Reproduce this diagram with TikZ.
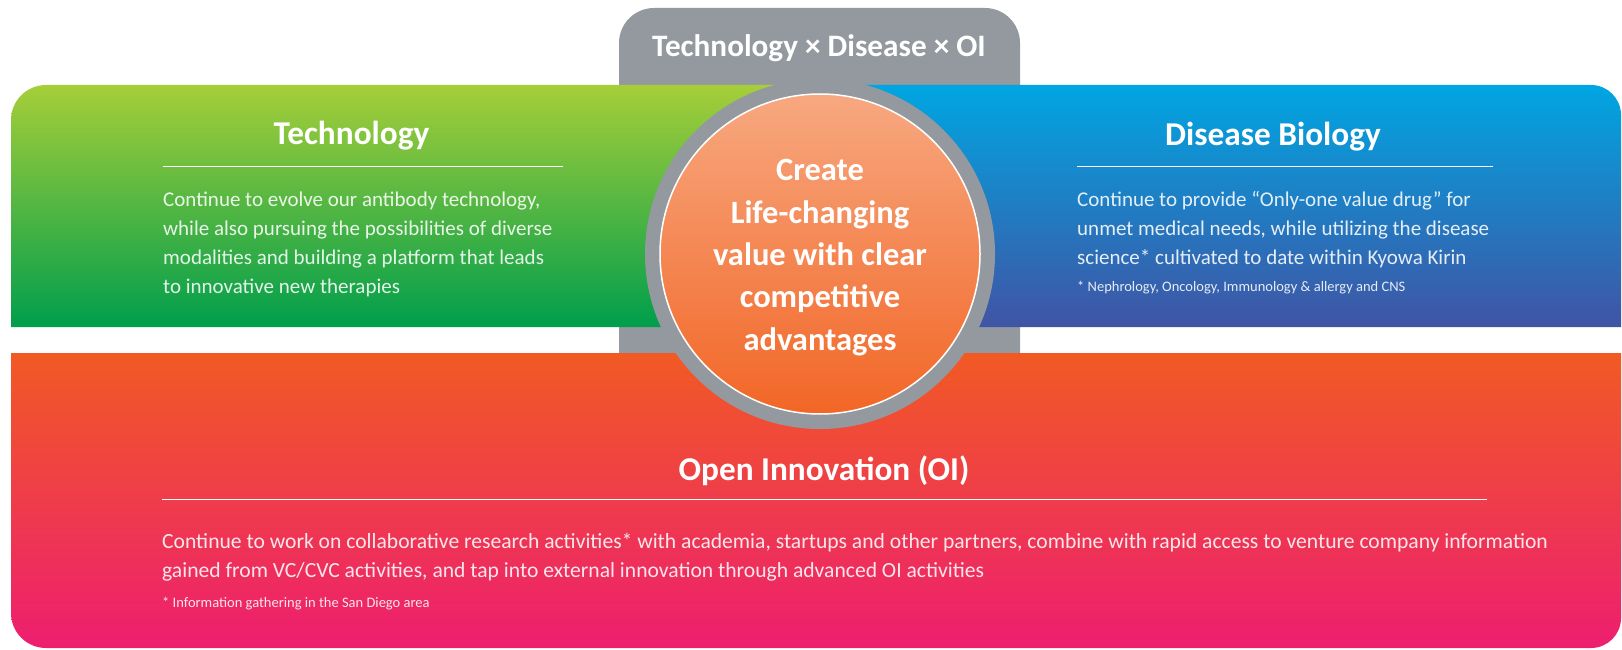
\documentclass[tikz,border=0pt]{standalone}
\usepackage{fontspec}
\setmainfont{Carlito}
\usetikzlibrary{positioning}

\definecolor{tabgray}{RGB}{148,153,159}
\definecolor{techtop}{RGB}{166,206,57}
\definecolor{techbot}{RGB}{0,158,76}
\definecolor{distop}{RGB}{0,166,226}
\definecolor{disbot}{RGB}{64,84,164}
\definecolor{oitop}{RGB}{241,90,36}
\definecolor{oibot}{RGB}{237,30,112}
\definecolor{coretop}{RGB}{247,168,128}
\definecolor{corebot}{RGB}{242,102,38}

\tikzset{
  heading/.style={text=white, font=\fontsize{33.3}{36}\selectfont\bfseries, inner sep=0pt, anchor=base},
  bodytext/.style={text=white, text opacity=.88, font=\fontsize{21}{29}\selectfont, align=left, inner sep=0pt, anchor=base west},
  note/.style={text=white, text opacity=.88, font=\fontsize{14.5}{17}\selectfont, inner sep=0pt, anchor=base west},
  rule/.style={white, line width=1.6pt},
  core/.style={circle, minimum size=320pt, inner sep=0pt, draw=white, line width=1.5pt, top color=coretop, bottom color=corebot},
  coretext/.style={text=white, font=\fontsize{32.5}{42.3}\selectfont\bfseries, align=center, inner sep=0pt, anchor=base},
}

\begin{document}
\begin{tikzpicture}[x=1pt,y=1pt]
        \useasboundingbox (0,0) rectangle (1622,649);

        \fill[tabgray] (619,296) -- (619,606) arc[start angle=180,end angle=90,radius=35pt]
          -- (985,641) arc[start angle=90,end angle=0,radius=35pt] -- (1020,296) -- cycle;
        \shade[top color=techtop,bottom color=techbot] (11,322) -- (11,529)
          arc[start angle=180,end angle=90,radius=35pt] -- (830,564) -- (830,322) -- cycle;
        \shade[top color=distop,bottom color=disbot] (810,322) -- (810,564) -- (1591,564)
          arc[start angle=90,end angle=0,radius=30pt] -- (1621,322) -- cycle;
        \shade[top color=oitop,bottom color=oibot] (11,296) -- (11,36)
          arc[start angle=180,end angle=270,radius=35pt] -- (1591,1)
          arc[start angle=270,end angle=360,radius=30pt] -- (1621,296) -- cycle;

        \coordinate (hub) at (820,395);
        \fill[tabgray] (hub) circle[radius=175pt];
        \node[core] (core) at (hub) {};
        \node[coretext] (coretext) at (820,299) {Create\\Life-changing\\value with clear\\competitive\\advantages};

        \node[heading, font=\fontsize{31.2}{33}\selectfont\bfseries] (tabtitle) at (819,592) {Technology × Disease × OI};

        \node[heading] (techtitle) at (351.5,504) {Technology};
        \draw[rule] (163,482.3) -- (563,482.3);
        \node[bodytext] (techtext) at (163,355.3) {Continue to evolve our antibody technology,\\
          while also pursuing the possibilities of diverse\\
          modalities and building a platform that leads\\
          to innovative new therapies};

        \node[heading] (distitle) at (1273,503) {Disease Biology};
        \draw[rule] (1077,482.3) -- (1493,482.3);
        \node[bodytext] (distext) at (1077,384.3) {Continue to provide “Only-one value drug” for\\
          unmet medical needs, while utilizing the disease\\
          science* cultivated to date within Kyowa Kirin};
        \node[note] (disnote) at (1077,357.3) {* Nephrology, Oncology, Immunology \& allergy and CNS};

        \node[heading] (oititle) at (824,169) {Open Innovation (OI)};
        \draw[rule] (162,149.7) -- (1487,149.7);
        \node[bodytext, font=\fontsize{21.6}{29.7}\selectfont] (oitext) at (162,71.3) {Continue to work on collaborative research activities* with academia, startups and other partners, combine with rapid access to venture company information\\
          gained from VC/CVC activities, and tap into external innovation through advanced OI activities};
        \node[note] (oinote) at (162,42) {* Information gathering in the San Diego area};
\end{tikzpicture}
\end{document}
